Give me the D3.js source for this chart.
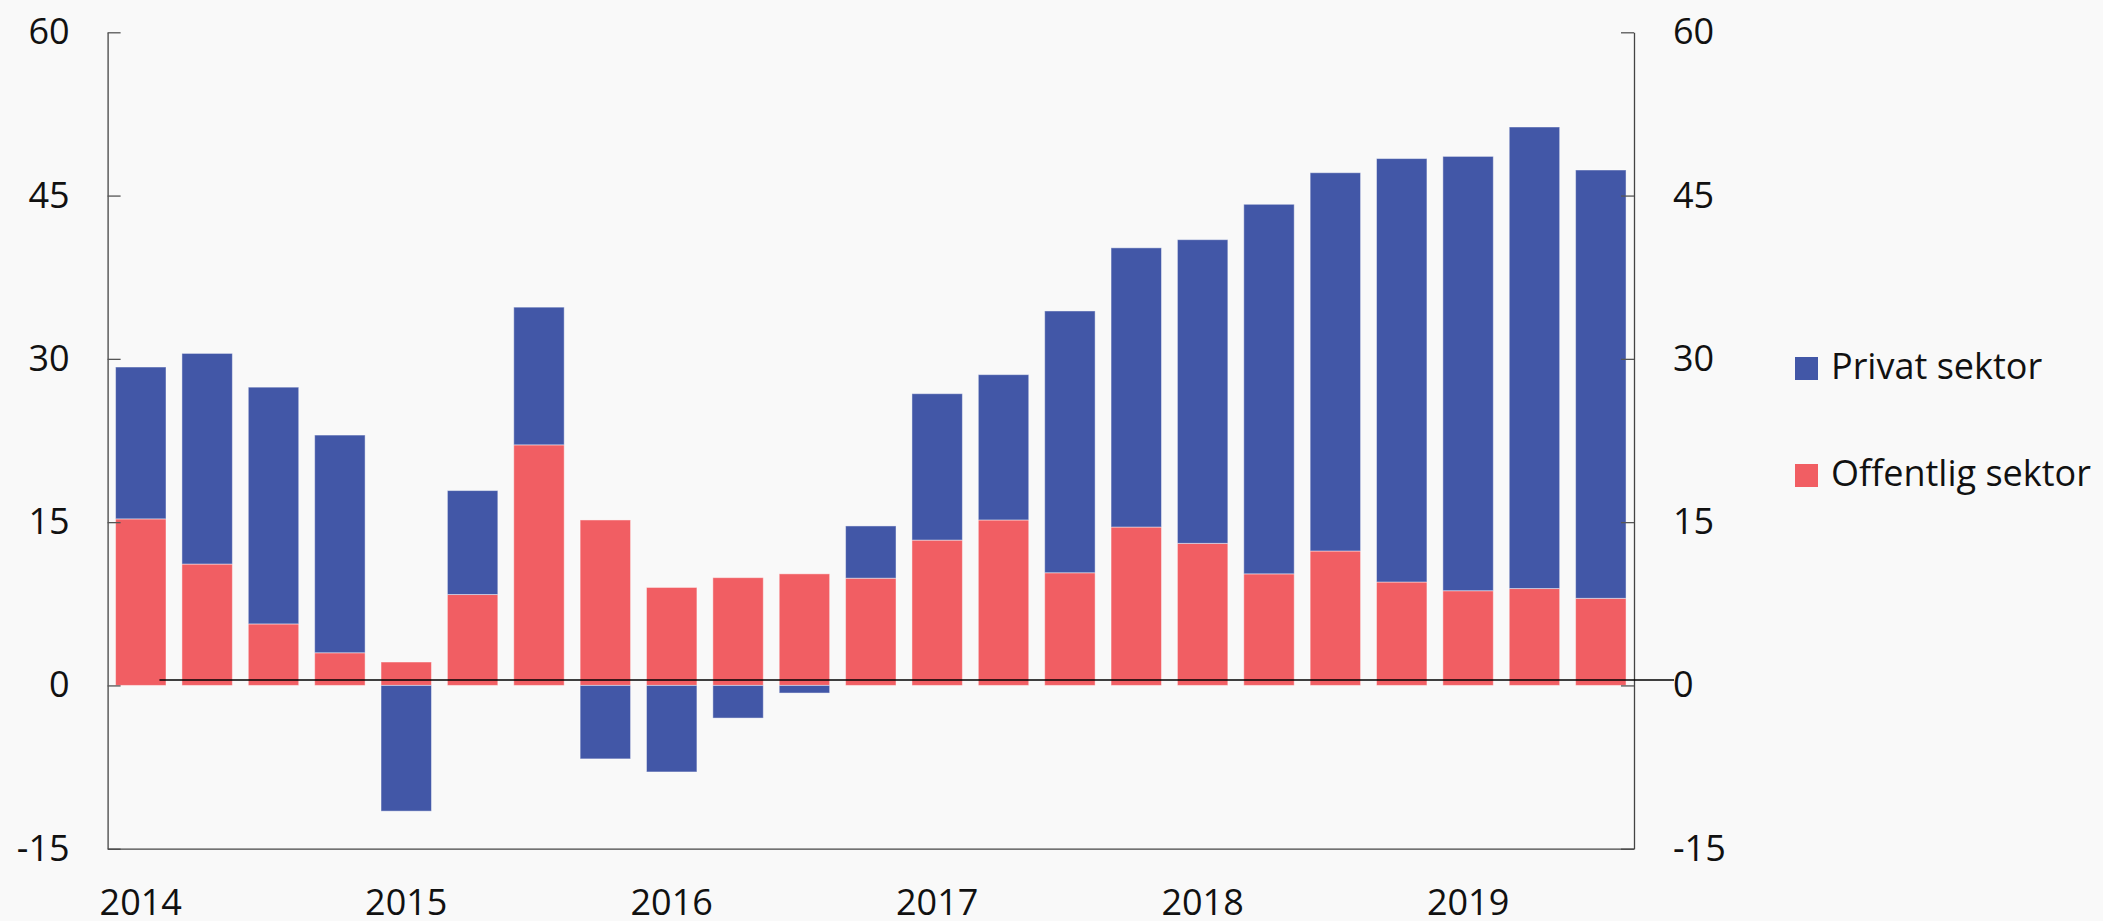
<!DOCTYPE html>
<html>
<head>
<meta charset="utf-8">
<script src="https://cdn.jsdelivr.net/npm/d3@7"></script>
<style>
  html, body { margin: 0; padding: 0; background: #f9f9f9; }
  svg { display: block; font-family: "Open Sans", sans-serif; }
</style>
</head>
<body>
<div id="chart"></div>
<script>
// quarters 2014K1 - 2019K3
const quarters = ["2014K1","2014K2","2014K3","2014K4","2015K1","2015K2","2015K3","2015K4",
  "2016K1","2016K2","2016K3","2016K4","2017K1","2017K2","2017K3","2017K4",
  "2018K1","2018K2","2018K3","2018K4","2019K1","2019K2","2019K3"];
const offentlig = [15.3, 11.15, 5.65, 3.0, 2.15, 8.35, 22.1, 15.2, 9.0, 9.9, 10.25, 9.85,
  13.35, 15.2, 10.35, 14.55, 13.05, 10.25, 12.35, 9.5, 8.7, 8.9, 8.0];
const privat = [13.95, 19.35, 21.75, 20.0, -11.55, 9.55, 12.65, -6.75, -7.95, -3.0, -0.7, 4.8,
  13.45, 13.35, 24.05, 25.65, 27.9, 33.95, 34.75, 38.9, 39.9, 42.4, 39.35];
const yTicks = [-15, 0, 15, 30, 45, 60];
const seriesNames = ["Privat sektor", "Offentlig sektor"];
const colors = {"Privat sektor": "#4257a7", "Offentlig sektor": "#f15e63"};

const w = 2103;
const h = 921;
const padLeft = 107.6, padRight = 1634, padTop = 32.3, padBottom = 848.7;

const svg = d3.select("#chart").
append("svg").
attr("width", w).
attr("height", h);

svg.append("rect").
attr("width", w).
attr("height", h).
attr("fill", "#f9f9f9");

//table for the stack
const rows = quarters.map((q, i) => ({q: q, "Offentlig sektor": offentlig[i], "Privat sektor": privat[i]}));

const stack = d3.stack().
keys(["Offentlig sektor", "Privat sektor"]).
offset(d3.stackOffsetDiverging);
const layers = stack(rows);

const xScale = d3.scaleBand().
domain(quarters).
range([padLeft, padRight]).
paddingInner(0.24).
paddingOuter(0.12);

const yScale = d3.scaleLinear().
domain([-15, 60]).
range([padBottom, padTop]);

//bars
svg.append("g").
selectAll("g").
data(layers).
enter().
append("g").
attr("fill", d => colors[d.key]).
selectAll("rect").
data(d => d).
enter().
append("rect").
attr("x", d => xScale(d.data.q)).
attr("width", xScale.bandwidth()).
attr("y", d => yScale(d[1])).
attr("height", d => yScale(d[0]) - yScale(d[1])).
attr("stroke", "rgba(255,255,255,0.45)").
attr("stroke-width", 1);

//plain hyphen for negatives, like the original
const fmt = d => String(d);

//left axis, ticks point inward
const yAxisL = d3.axisLeft(yScale).
tickValues(yTicks).
tickFormat(fmt).
tickSizeInner(-13).
tickSizeOuter(0).
tickPadding(38);

svg.append("g").
attr("transform", "translate(" + padLeft + ",0)").
call(yAxisL);

const yAxisR = d3.axisRight(yScale).
tickValues(yTicks).
tickFormat(fmt).
tickSizeInner(-13).
tickSizeOuter(0).
tickPadding(39);

svg.append("g").
attr("transform", "translate(" + padRight + ",0)").
call(yAxisR);

//x axis with year under first quarter
const xAxis = d3.axisBottom(xScale).
tickValues(quarters.filter(q => q.endsWith("K1"))).
tickFormat(q => q.slice(0, 4)).
tickSize(0).
tickSizeOuter(0).
tickPadding(41);

svg.append("g").
attr("transform", "translate(0," + padBottom + ")").
call(xAxis);

svg.selectAll(".domain").
attr("stroke", "#444").
attr("stroke-width", 1.3);
svg.selectAll(".tick line").
attr("stroke", "#555").
attr("stroke-width", 1.3);
svg.selectAll(".tick text").
attr("font-size", 36).
attr("font-family", "Open Sans").
attr("fill", "#111");

//zero line, sits a little above the 0 tick like the original
svg.append("line").
attr("x1", xScale(quarters[0]) + xScale.bandwidth() * 0.87).
attr("x2", padRight + 40).
attr("y1", yScale(0) - 5.4).
attr("y2", yScale(0) - 5.4).
attr("stroke", "#000").
attr("stroke-width", 1.5);

//legend
const legend = svg.append("g").
selectAll("g").
data(seriesNames).
enter().
append("g").
attr("transform", (d, i) => "translate(1795," + (357 + i * 107) + ")");

legend.append("rect").
attr("width", 23).
attr("height", 23).
attr("fill", d => colors[d]);

legend.append("text").
attr("x", 36).
attr("y", 22).
attr("font-size", 36).
attr("fill", "#111").
text(d => d);
</script>
</body>
</html>
